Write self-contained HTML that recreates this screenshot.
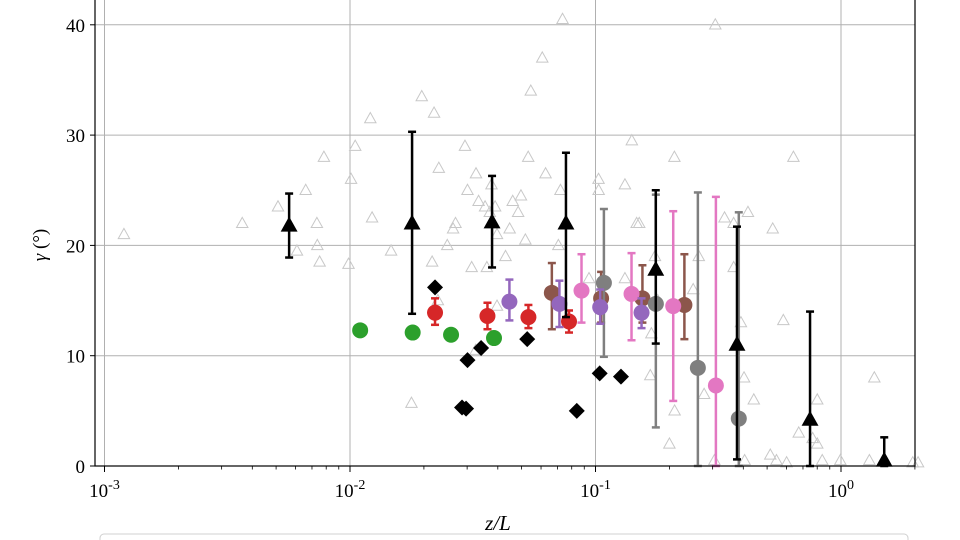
<!DOCTYPE html>
<html><head><meta charset="utf-8"><style>
html,body{margin:0;padding:0;background:#fff;}
svg{display:block;font-family:"Liberation Serif","DejaVu Serif",serif;}
</style></head><body>
<svg id="chart" width="960" height="540" viewBox="0 0 960 540" xmlns="http://www.w3.org/2000/svg">
<g id="grid"></g>
<g id="bg"></g>
<g id="marks"></g>
<g id="axes"></g>
<text x="498" y="530" font-size="21" text-anchor="middle" font-style="italic">z/L</text>
<text transform="translate(46,245) rotate(-90)" font-size="19" text-anchor="middle"><tspan font-style="italic">γ</tspan> (°)</text>
<rect x="100" y="534" width="808" height="20" rx="4" fill="#fff" stroke="#d0d0d0"/>
</svg>
<script>
// data arrays
const yTicks=[0,10,20,30,40];
const xTickExp=[-3,-2,-1,0];
const triX=[0.00565,0.0179,0.0379,0.0758,0.176,0.377,0.748,1.50];
const triY=[21.8,22.0,22.1,22.0,17.8,11.0,4.2,0.5];
const triLo=[18.9,13.8,18.0,13.5,11.1,0.6,0,0];
const triHi=[24.7,30.3,26.3,28.4,25.0,21.7,14.0,2.6];
const diaX=[0.0222,0.0301,0.0342,0.0286,0.0297,0.0527,0.0839,0.104,0.127];
const diaY=[16.2,9.6,10.7,5.3,5.2,11.5,5.0,8.4,8.1];
const greenX=[0.0110,0.0180,0.0258,0.0386];
const greenY=[12.3,12.1,11.9,11.6];
const redX=[0.0222,0.0363,0.0533,0.0780];
const redY=[13.9,13.6,13.5,13.1];
const redLo=[12.8,12.4,12.5,12.1];
const redHi=[15.2,14.8,14.6,14.1];
const purX=[0.0446,0.0713,0.1045,0.1540];
const purY=[14.9,14.7,14.4,13.9];
const purLo=[13.2,12.6,12.9,12.5];
const purHi=[16.9,16.8,16.0,15.2];
const brnX=[0.0664,0.1054,0.1553,0.2302];
const brnY=[15.7,15.2,15.2,14.6];
const brnLo=[12.4,13.0,13.0,11.5];
const brnHi=[18.4,17.6,18.2,19.2];
const pnkX=[0.0877,0.1402,0.2073,0.3093];
const pnkY=[15.9,15.6,14.5,7.3];
const pnkLo=[13.0,11.4,5.9,0];
const pnkHi=[19.2,19.3,23.1,24.4];
const gryX=[0.1082,0.1761,0.2612,0.3834];
const gryY=[16.6,14.7,8.9,4.3];
const gryLo=[9.9,3.5,0,0];
const gryHi=[23.3,24.6,24.8,23.0];
const bgX=[0.00120,0.00364,0.00509,0.00660,0.00783,0.0105,0.0121,0.0123,0.00733,0.00736,0.00608,0.00752,0.00986,0.0101,0.0147,0.0196,0.0220,0.0377,0.0230,0.0326,0.0334,0.0397,0.0371,0.0269,0.0249,0.0216,0.0313,0.0361,0.0397,0.0228,0.0263,0.0301,0.0355,0.0390,0.0460,0.0532,0.0484,0.0545,0.0607,0.0734,0.0720,0.0706,0.0941,0.1029,0.1318,0.1406,0.1507,0.1471,0.1747,0.1318,0.1793,0.1689,0.1672,0.2000,0.2096,0.2500,0.2634,0.3076,0.3653,0.3354,0.3654,0.3912,0.4178,0.5271,0.5823,0.6401,0.4028,0.8003,0.4413,0.5152,0.6727,0.7665,0.8003,0.8387,0.9935,1.3050,1.3670,1.9600,2.0600,0.5460,0.6003,0.4050,0.3050,0.2770,0.2100,0.1030,0.0626,0.0518,0.0430,0.0325,0.0178,0.0294,0.0447,0.0497];
const bgY=[21,22,23.5,25,28,29,31.5,22.5,22,20,19.5,18.5,18.3,26,19.5,33.5,32,25.5,27,26.5,24,21,23,22,20,18.5,18,18,14.5,15,21.5,25,23.5,23.5,24,28,23,34,37,40.5,25,20,17,26,25.5,29.5,22,22,19,17,15,12,8.2,2,28,16,19,40,22,22.5,18,13,23,21.5,13.2,28,8,6,6,1,3,2.5,2,0.5,0.5,0.5,8,0.3,0.3,0.5,0.3,0.5,0.5,6.5,5,25,26.5,20.5,19,10.5,5.7,29,21.5,24.5];

const NS='http://www.w3.org/2000/svg';
const L=95,R=915,B=466;
function X(v){return 350+245.5*(Math.log10(v)+2);}
function Y(v){return B-11.03*v;}
function mk(parent,tag,attrs){const e=document.createElementNS(NS,tag);for(const k in attrs)e.setAttribute(k,attrs[k]);parent.appendChild(e);return e;}
const grid=document.getElementById('grid'),bg=document.getElementById('bg'),marks=document.getElementById('marks'),axes=document.getElementById('axes');

yTicks.forEach(t=>{
  const g=mk(grid,'line',{x1:L,x2:R,y1:Y(t),y2:Y(t),stroke:'#b0b0b0','stroke-width':1});
  
  
  const tk=mk(axes,'line',{x1:L-5,x2:L,y1:Y(t),y2:Y(t),stroke:'#000','stroke-width':1});
  
  
  const tx=mk(axes,'text',{x:L-10,y:Y(t)+7,'font-size':19,'text-anchor':'end'});
  tx.textContent=t;
  
  
});
xTickExp.forEach(e=>{
  const x=X(Math.pow(10,e));
  const g=mk(grid,'line',{x1:x,x2:x,y1:0,y2:B,stroke:'#b0b0b0','stroke-width':1});
  
  
  const tk=mk(axes,'line',{x1:x,x2:x,y1:B,y2:B+6,stroke:'#000','stroke-width':1});
  
  
  const tx=mk(axes,'text',{x:x,y:B+31,'font-size':19,'text-anchor':'middle'});
  tx.innerHTML='10<tspan dy="-8" font-size="14">'+e+'</tspan>';
  
  
  for(let m=2;m<10;m++){
    const xm=X(m*Math.pow(10,e));
    if(xm>R)break;
    const mt=mk(axes,'line',{x1:xm,x2:xm,y1:B,y2:B+3.5,stroke:'#000','stroke-width':0.8});
    
    
  }
});
mk(axes,'rect',{x:L,y:-2,width:R-L,height:B+2,fill:'none',stroke:'#000','stroke-width':1.2});

function tri(p,x,y,s,fill,stroke){return mk(p,'polygon',{points:`${x},${y-s} ${x-s*0.95},${y+s*0.7} ${x+s*0.95},${y+s*0.7}`,fill:fill,stroke:stroke,'stroke-width':1});}
bgX.forEach((v,i)=>{
  const t=tri(bg,X(v),Y(bgY[i]),6,'none','#c8c8c8');
  
  
});
function err(x,lo,hi,color,w){
  const g=mk(marks,'g',{stroke:color,'stroke-width':w});
  
  
  mk(g,'line',{x1:x,x2:x,y1:Y(lo),y2:Y(hi)});
  mk(g,'line',{x1:x-4,x2:x+4,y1:Y(lo),y2:Y(lo)});
  mk(g,'line',{x1:x-4,x2:x+4,y1:Y(hi),y2:Y(hi)});
}
function circSeries(xs,ys,lo,hi,color,name){
  xs.forEach((v,i)=>{
    const x=X(v);
    if(lo)err(x,lo[i],hi[i],color,2.5);
    const c=mk(marks,'circle',{cx:x,cy:Y(ys[i]),r:8,fill:color});
    
    
  });
}
circSeries(greenX,greenY,null,null,'#2ca02c','green-point');
circSeries(redX,redY,redLo,redHi,'#d62728','red-point');
circSeries(brnX,brnY,brnLo,brnHi,'#8c564b','brown-point');
circSeries(pnkX,pnkY,pnkLo,pnkHi,'#e377c2','pink-point');
circSeries(gryX,gryY,gryLo,gryHi,'#7f7f7f','gray-point');
circSeries(purX,purY,purLo,purHi,'#9467bd','purple-point');
diaX.forEach((v,i)=>{
  const x=X(v),y=Y(diaY[i]),s=8;
  const d=mk(marks,'polygon',{points:`${x},${y-s} ${x+s},${y} ${x},${y+s} ${x-s},${y}`,fill:'#000'});
  
  
});
triX.forEach((v,i)=>{
  const x=X(v);
  err(x,triLo[i],triHi[i],'#000',2.5);
  const t=tri(marks,x,Y(triY[i]),8,'#000','#000');
  
  
});
</script>
</body></html>
